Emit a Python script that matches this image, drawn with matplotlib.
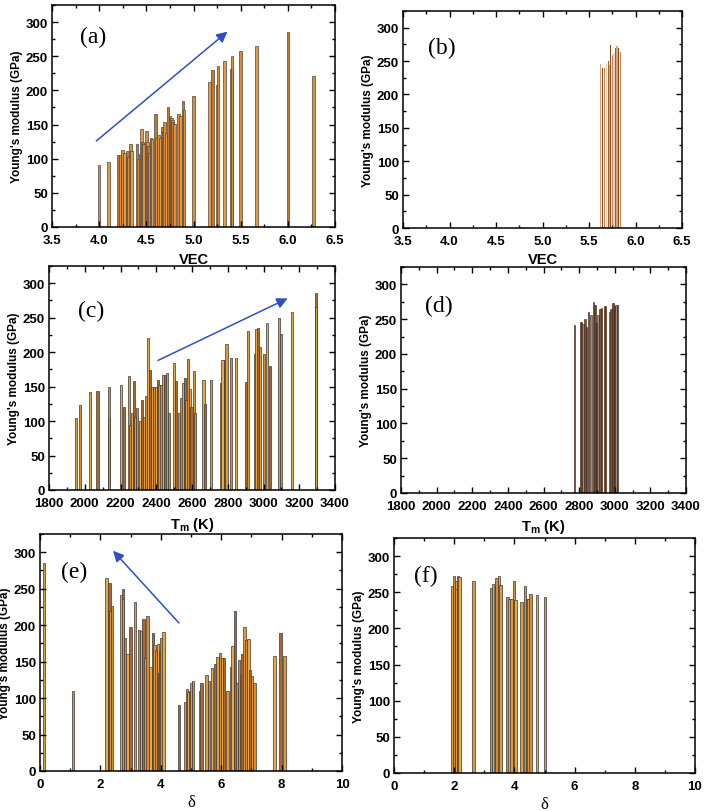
import matplotlib
matplotlib.use("Agg")
import matplotlib.pyplot as plt
from matplotlib.ticker import MultipleLocator

plt.rcParams['font.family'] = ['Liberation Sans', 'DejaVu Sans']
plt.rcParams['mathtext.fontset'] = 'custom'
plt.rcParams['mathtext.bf'] = 'Liberation Sans:bold'
plt.rcParams['mathtext.rm'] = 'Liberation Sans'

# (a) VEC vs E, all alloys
vec_a = [4.0, 4.1, 4.2, 4.22, 4.25, 4.27, 4.3, 4.31, 4.33, 4.34, 4.4, 4.41, 4.44, 4.45,
         4.46, 4.47, 4.5, 4.51, 4.52, 4.53, 4.55, 4.56, 4.6, 4.61, 4.63, 4.65, 4.67, 4.68,
         4.69, 4.71, 4.73, 4.75, 4.77, 4.775, 4.78, 4.8, 4.84, 4.86, 4.89, 4.9, 5.0, 5.17,
         5.2, 5.25, 5.26, 5.33, 5.4, 5.41, 5.5, 5.67, 6.0, 6.27]
E_a = [91, 95, 106, 105, 113, 108, 111, 103, 121, 111, 121, 99, 107, 143,
       124, 121, 141, 124, 119, 109, 131, 129, 166, 131, 134, 131, 147, 141,
       154, 138, 175, 162, 159, 156, 154, 151, 165, 163, 185, 171, 192, 213,
       230, 208, 235, 243, 232, 250, 258, 265, 286, 221]

# (b) VEC vs E, selected alloys
vec_b = [5.62, 5.645, 5.67, 5.69, 5.71, 5.72, 5.73, 5.75, 5.77, 5.79, 5.8, 5.82, 5.84]
E_b = [246, 240, 240, 247, 250, 244, 274, 259, 262, 269, 272, 270, 264]

# (c) Tm vs E, all alloys
tm_c = [1949, 1975, 2028, 2071, 2134, 2138, 2201, 2218, 2246, 2254, 2265, 2274, 2280,
        2293, 2308, 2321, 2330, 2345, 2354, 2364, 2375, 2386, 2397, 2408, 2418, 2429,
        2440, 2450, 2461, 2470, 2498, 2511, 2526, 2541, 2550, 2561, 2569, 2577, 2588,
        2597, 2610, 2618, 2664, 2674, 2705, 2762, 2771, 2784, 2793, 2818, 2844, 2905,
        2915, 2952, 2961, 2967, 2982, 3004, 3021, 3036, 3085, 3098, 3159, 3294, 3296]
E_c = [104, 124, 142, 143, 105, 150, 153, 120, 166, 95, 111, 158, 106,
       119, 100, 130, 106, 137, 220, 174, 150, 149, 150, 159, 153, 153,
       167, 167, 170, 112, 184, 158, 111, 133, 155, 162, 130, 190, 147,
       120, 173, 111, 159, 125, 159, 155, 189, 188, 212, 192, 192, 157,
       230, 197, 233, 235, 208, 197, 242, 180, 249, 226, 258, 286, 265]

# (d) Tm vs E, selected alloys
tm_d = [2774, 2810, 2821, 2834, 2843, 2854, 2866, 2880, 2890, 2896, 2905, 2916, 2925,
        2946, 2970, 2978, 2990, 2998, 3008, 3017]
E_d = [241, 246, 243, 250, 238, 261, 256, 274, 271, 245, 256, 265, 266,
       269, 261, 265, 273, 269, 271, 270]

# (e) delta vs E, all alloys
d_e = [0.13, 1.09, 2.2, 2.3, 2.31, 2.39, 2.7, 2.74, 2.75, 2.81, 2.9, 2.99, 3.14, 3.27,
       3.35, 3.43, 3.5, 3.56, 3.66, 3.74, 3.79, 3.85, 3.9, 3.95, 3.99, 4.02, 4.09,
       4.6, 4.8, 4.86, 4.92, 4.96, 5.0, 5.07, 5.29, 5.35, 5.51, 5.59, 5.7, 5.79, 5.88,
       5.96, 6.02, 6.1, 6.21, 6.32, 6.37, 6.45, 6.53, 6.58, 6.66, 6.71, 6.77, 6.83,
       6.9, 6.95, 7.02, 7.1, 7.77, 7.96, 8.1]
E_e = [285, 110, 265, 258, 219, 226, 242, 250, 236, 183, 160, 197, 232, 193,
       192, 208, 155, 212, 142, 189, 173, 166, 174, 135, 164, 183, 190,
       91, 95, 112, 108, 110, 121, 124, 110, 121, 131, 124, 141, 147, 156,
       162, 155, 155, 110, 142, 171, 220, 121, 152, 131, 160, 197, 179,
       181, 138, 130, 121, 158, 189, 158]

# (f) delta vs E, selected alloys
d_f = [1.92, 2.0, 2.05, 2.06, 2.13, 2.18, 2.64, 3.23, 3.29, 3.38, 3.41, 3.48, 3.54,
       3.77, 3.84, 3.91, 3.99, 4.04, 4.24, 4.36, 4.41, 4.47, 4.53, 4.76, 5.02]
E_f = [259, 273, 266, 255, 273, 271, 265, 256, 261, 264, 269, 272, 260,
       244, 240, 241, 266, 239, 237, 258, 241, 241, 248, 246, 244]

ylab = "Young's modulus (GPa)"

fig = plt.figure(figsize=(7.08, 8.12), dpi=100)
W, H = 708.0, 812.0


def box(l, r, t, b):
    return fig.add_axes([l / W, 1 - b / H, (r - l) / W, (b - t) / H])


def style(ax, xlim, xmaj, xmin, xlabel, xfont=None):
    ax.set_xlim(*xlim)
    ax.set_ylim(0, 325)
    ax.xaxis.set_major_locator(MultipleLocator(xmaj))
    ax.xaxis.set_minor_locator(MultipleLocator(xmin))
    ax.yaxis.set_major_locator(MultipleLocator(50))
    ax.yaxis.set_minor_locator(MultipleLocator(25))
    ax.tick_params(which='both', direction='in', top=True, right=True, width=1)
    ax.tick_params(which='major', length=4, labelsize=9.5)
    ax.tick_params(axis='x', which='major', pad=5)
    ax.tick_params(axis='y', which='major', pad=3)
    ax.tick_params(which='minor', length=2)
    for lab in ax.get_xticklabels() + ax.get_yticklabels():
        lab.set_fontweight('bold')
    for s in ax.spines.values():
        s.set_linewidth(1.1)
    ax.set_ylabel(ylab, fontsize=8.5, fontweight='bold', labelpad=2)
    if xfont is None:
        ax.set_xlabel(xlabel, fontsize=10.5, fontweight='bold', labelpad=4)
    else:
        ax.set_xlabel(xlabel, fontsize=12, family=xfont, labelpad=3)


def panel(ax, text, x, y):
    ax.text(x, y, text, transform=ax.transAxes, fontsize=17, family='Liberation Serif',
            ha='left', va='center')


def arrow(ax, start, end):
    ax.annotate('', xy=end, xytext=start,
                arrowprops=dict(arrowstyle='-|>', color='#2f4fc4', lw=1.1,
                                mutation_scale=16, shrinkA=0, shrinkB=0))


orange = ['#dd8a33', '#e39a45', '#c8742a', '#e08e3a']
golds = ['#e09a3e', '#d98c35', '#e8a848', '#b0652a']
tans = ['#d9a57c', '#8a4a1e', '#c48a5e', '#ead2b8', '#a0602e']
browns = ['#7a4322', '#6a3618', '#8f8f8f', '#84502c']

# (a)
ax = box(52, 335, 6, 228)
ax.bar(vec_a, E_a, width=0.028, color=[orange[i % 4] for i in range(len(E_a))],
       edgecolor='#4a4a4a', linewidth=0.5)
style(ax, (3.5, 6.5), 0.5, 0.25, 'VEC')
panel(ax, '(a)', 0.1, 0.86)
arrow(ax, (3.97, 126), (5.36, 286))

# (b)
ax = box(403, 682, 12, 229)
ax.bar(vec_b, E_b, width=0.014, color=[tans[i % 5] for i in range(len(E_b))],
       edgecolor='none')
style(ax, (3.5, 6.5), 0.5, 0.25, 'VEC')
panel(ax, '(b)', 0.09, 0.83)

# (c)
ax = box(49, 335, 267, 491)
ax.bar(tm_c, E_c, width=12, color=[golds[i % 4] for i in range(len(E_c))],
       edgecolor='#3a3a3a', linewidth=0.5)
style(ax, (1800, 3400), 200, 100, r'$\mathbf{T_m}$ (K)')
panel(ax, '(c)', 0.1, 0.8)
arrow(ax, (2410, 188), (3135, 278))

# (d)
ax = box(401, 686, 268, 494)
ax.bar(tm_d, E_d, width=8, color=[browns[i % 4] for i in range(len(E_d))],
       edgecolor='#3a2010', linewidth=0.4)
style(ax, (1800, 3400), 200, 100, r'$\mathbf{T_m}$ (K)')
panel(ax, '(d)', 0.085, 0.83)

# (e)
ax = box(40, 342, 535, 772)
ax.bar(d_e, E_e, width=0.08, color=[golds[i % 4] for i in range(len(E_e))],
       edgecolor='#3a3a3a', linewidth=0.5)
style(ax, (0, 10), 2, 1, 'δ', xfont='Liberation Serif')
panel(ax, '(e)', 0.07, 0.84)
arrow(ax, (4.6, 203), (2.42, 302))

# (f)
ax = box(394, 695, 539, 774)
ax.bar(d_f, E_f, width=0.08, color=[golds[i % 3] for i in range(len(E_f))],
       edgecolor='#3a3a3a', linewidth=0.5)
style(ax, (0, 10), 2, 1, 'δ', xfont='Liberation Serif')
panel(ax, '(f)', 0.065, 0.84)

fig.savefig('out.png', dpi=100)
